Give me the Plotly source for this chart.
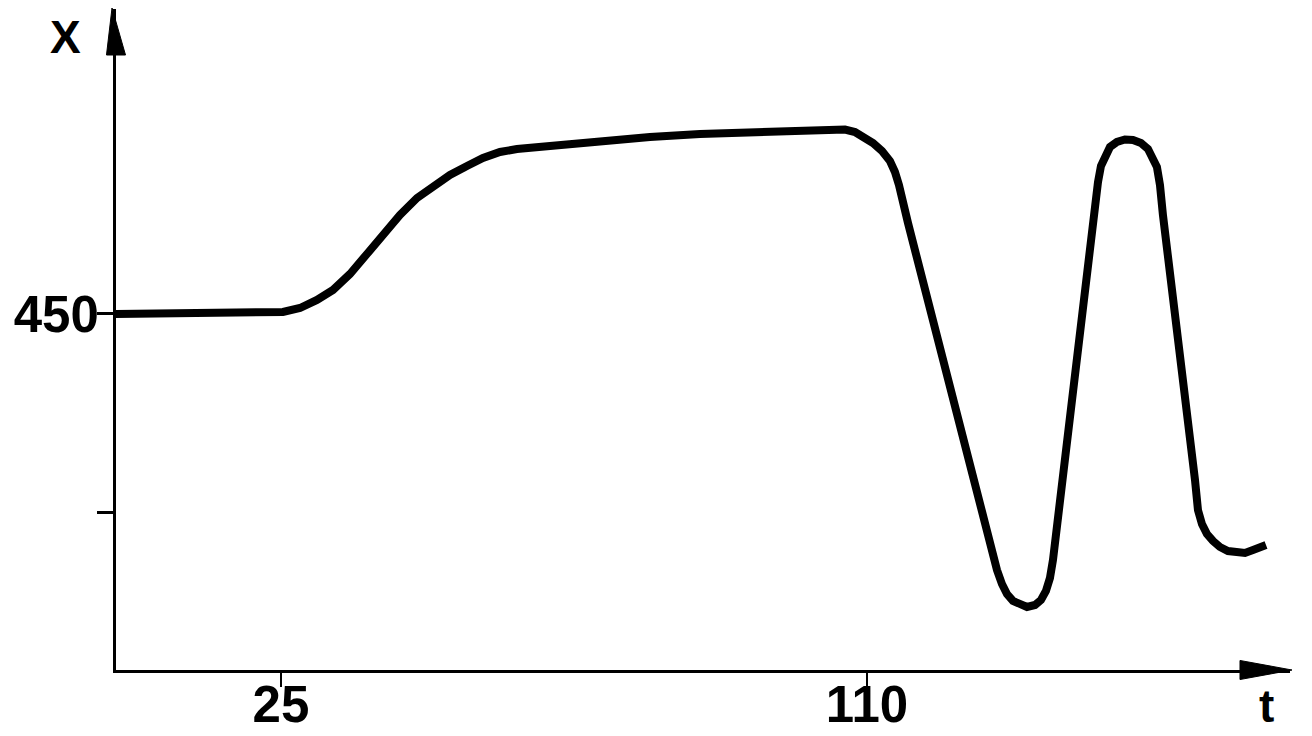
import plotly.graph_objects as go

# Curve (t, X)
t_vals = [1.0, 13.25, 22.68, 25.29, 27.76, 30.22, 32.54, 35.01, 37.47, 39.80,
          42.26, 44.73, 47.05, 49.51, 51.98, 54.30, 56.77, 59.23, 64.02, 71.27,
          78.52, 85.78, 93.03, 100.28, 104.63, 106.81, 108.26, 109.71, 110.87, 112.18,
          113.34, 114.06, 114.64, 115.95, 126.83, 127.84, 128.86, 129.58, 130.31, 131.18,
          132.19, 133.21, 134.37, 135.24, 135.96, 136.54, 136.98, 137.56, 143.07, 143.51,
          143.94, 144.52, 145.25, 146.26, 147.42, 148.58, 149.74, 150.76, 151.48, 152.06,
          152.50, 152.93, 157.58, 158.01, 158.59, 159.32, 160.19, 161.20, 162.36, 163.67,
          164.83, 165.99, 167.01, 167.88]
x_vals = [450.0, 450.0, 450.13, 450.50, 451.51, 453.53, 456.05, 460.08, 465.11, 470.15,
          474.94, 479.22, 482.24, 485.01, 487.28, 489.29, 490.81, 491.56, 492.32, 493.58,
          494.58, 495.34, 495.84, 496.35, 496.73, 496.47, 495.84, 494.58, 493.07, 491.06,
          488.54, 485.77, 482.49, 472.92, 398.11, 391.06, 385.52, 381.99, 379.47, 377.71,
          376.70, 376.20, 376.70, 377.96, 380.23, 383.50, 388.04, 396.85, 476.20, 483.25,
          487.28, 490.05, 492.07, 493.33, 493.96, 493.83, 493.07, 491.56, 489.55, 487.03,
          482.49, 474.94, 408.19, 400.63, 397.10, 394.58, 392.82, 391.31, 390.30, 389.80,
          389.80, 390.55, 391.06, 391.81]

x_tick_vals = [25, 110]
x_tick_text = ["25", "110"]
y_tick_vals = [450, 400]
y_tick_text = ["450", ""]

x_range = [1.07, 171.36]
y_range = [360.32, 526.83]

FONT = "Liberation Sans"

fig = go.Figure()
fig.add_trace(go.Scatter(
    x=t_vals, y=x_vals, mode="lines",
    line=dict(color="black", width=8, shape="linear"),
    hoverinfo="skip", showlegend=False,
))

fig.update_layout(
    width=1304, height=728,
    margin=dict(l=108, r=22, t=1, b=66, autoexpand=False),
    paper_bgcolor="white", plot_bgcolor="white",
    showlegend=False,
    xaxis=dict(
        range=x_range, showgrid=False, zeroline=False, automargin=False,
        showline=True, linecolor="black", linewidth=3,
        tickmode="array", tickvals=x_tick_vals, ticktext=x_tick_text,
        ticks="outside", ticklen=14, tickwidth=2, tickcolor="black",
        ticklabelstandoff=-26,
        tickfont=dict(family=FONT, size=51, color="black", weight="bold"),
    ),
    yaxis=dict(
        range=y_range, showgrid=False, zeroline=False, automargin=False,
        showline=True, linecolor="black", linewidth=3,
        tickmode="array", tickvals=y_tick_vals, ticktext=y_tick_text,
        ticks="outside", ticklen=16, tickwidth=2.5, tickcolor="black",
        ticklabelstandoff=-12,
        tickfont=dict(family=FONT, size=51, color="black", weight="bold"),
    ),
    shapes=[
        dict(type="path", xref="paper", yref="paper",
             path="M 0.9574,0.0144 L 1.0017,0 L 0.9574,-0.0144 Z",
             fillcolor="black", line=dict(color="black", width=1)),
        dict(type="path", xref="paper", yref="paper",
             path="M -0.0081,0.9304 L -0.0034,1.0015 L 0.0081,0.9304 Z",
             fillcolor="black", line=dict(color="black", width=1)),
    ],
    annotations=[
        dict(text="X", xref="paper", yref="paper", x=-0.0426, y=0.957,
             xanchor="center", yanchor="middle", showarrow=False,
             font=dict(family=FONT, size=46, color="black", weight="bold")),
        dict(text="t", xref="paper", yref="paper", x=0.9796, y=-0.0545,
             xanchor="center", yanchor="middle", showarrow=False,
             font=dict(family=FONT, size=46, color="black", weight="bold")),
    ],
)

fig.write_html("out.html")
